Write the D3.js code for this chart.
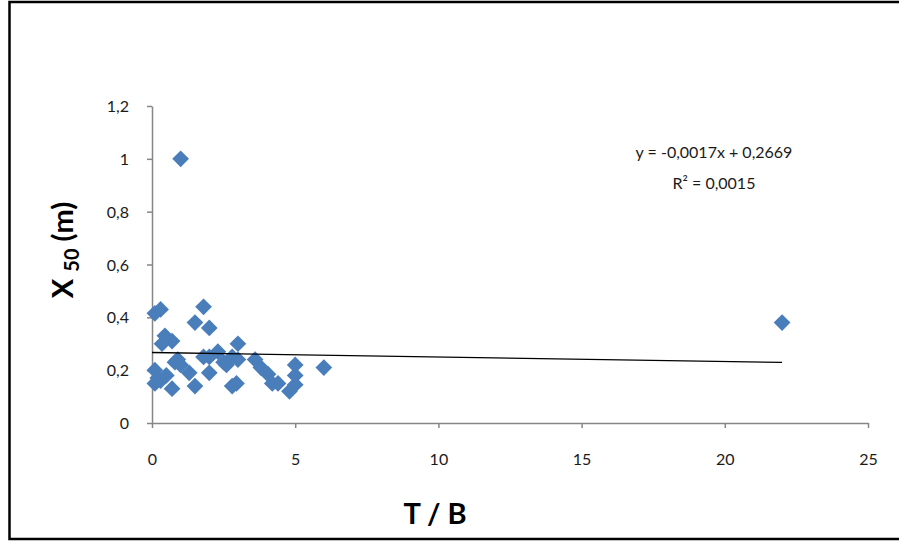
<!DOCTYPE html>
<html>
<head>
<meta charset="utf-8">
<script src="https://cdn.jsdelivr.net/npm/d3@7"></script>
<style>
  html, body { margin: 0; padding: 0; background: #fff; }
  svg { display: block; }
  text { font-family: Lato, "Open Sans", "Liberation Sans", sans-serif; }
</style>
</head>
<body>
<svg id="chart" width="899" height="542"></svg>
<script>
// Measurements: T/B ratio and X50 (m)
const tb = [1.0, 22, 0.1, 0.3, 1.8, 1.5, 2.0, 0.45, 0.7, 0.35, 3.0,
            0.1, 0.3, 0.5, 0.7, 0.1, 0.8, 1.0, 1.3, 1.5, 1.8, 2.0,
            2.0, 2.3, 2.5, 2.8, 3.0, 2.8, 2.95, 3.6, 3.8, 4.05, 4.2,
            4.4, 4.8, 5.0, 5.0, 5.0, 6.0, 0.2, 2.6, 0.9];
const x50 = [1.0, 0.38, 0.415, 0.43, 0.44, 0.38, 0.36, 0.33, 0.31, 0.30, 0.30,
             0.20, 0.16, 0.18, 0.13, 0.15, 0.23, 0.22, 0.19, 0.14, 0.25, 0.19,
             0.25, 0.27, 0.23, 0.25, 0.24, 0.14, 0.15, 0.24, 0.21, 0.185, 0.15,
             0.15, 0.12, 0.145, 0.18, 0.22, 0.21, 0.17, 0.22, 0.24];

// Linear trend line
const slope = -0.0017, intercept = 0.2669;
const trendRange = [0, 22];
const eqLines = ["y = -0,0017x + 0,2669", "R² = 0,0015"];

const xTicks = [0, 5, 10, 15, 20, 25];
const yTicks = [0, 0.2, 0.4, 0.6, 0.8, 1.0, 1.2];
const fmt = d => String(+d.toFixed(1)).replace(".", ",");

const svg = d3.select("#chart");

// Outer frame
svg.append("rect")
  .attr("x", 9.5).attr("y", 2).attr("width", 900).attr("height", 537)
  .attr("fill", "none").attr("stroke", "#000").attr("stroke-width", 2.5);

const x = d3.scaleLinear().domain([0, 25]).range([152, 868]);
const y = d3.scaleLinear().domain([0, 1.2]).range([423, 106]);

const axisColor = "#868686";

const gx = svg.append("g").attr("transform", "translate(0,423)")
  .call(d3.axisBottom(x).tickValues(xTicks).tickFormat(d => d).tickSize(5).tickSizeOuter(0));
const gy = svg.append("g").attr("transform", "translate(152,0)")
  .call(d3.axisLeft(y).tickValues(yTicks).tickFormat(fmt).tickSize(5).tickSizeOuter(0));

[gx, gy].forEach(g => {
  g.select(".domain").attr("stroke", axisColor).attr("stroke-width", 1.5);
  g.selectAll(".tick line").attr("stroke", axisColor).attr("stroke-width", 1.5);
  g.selectAll(".tick text").attr("fill", "#1a1a1a").style("font-size", "16px");
});
gx.selectAll(".tick text").attr("y", 36).attr("dy", "0.35em");
gy.selectAll(".tick text").attr("x", -23).attr("dy", "0.35em");

// Points (diamonds)
svg.append("g").selectAll("path")
  .data(tb.map((v, i) => [v, x50[i]]))
  .join("path")
  .attr("transform", d => `translate(${x(d[0])},${y(d[1])}) rotate(45)`)
  .attr("d", d3.symbol().type(d3.symbolSquare).size(140))
  .attr("fill", "#4a7ebb");

// Trend line
svg.append("line")
  .attr("x1", x(trendRange[0])).attr("y1", y(intercept + slope * trendRange[0]))
  .attr("x2", x(trendRange[1])).attr("y2", y(intercept + slope * trendRange[1]))
  .attr("stroke", "#000").attr("stroke-width", 1.3);

// Equation
svg.append("g").selectAll("text")
  .data(eqLines)
  .join("text")
  .attr("x", 714).attr("y", (d, i) => 158 + i * 31)
  .attr("text-anchor", "middle")
  .attr("fill", "#1a1a1a")
  .style("font-size", "16px")
  .text(d => d);

// Axis titles
svg.append("text")
  .attr("x", 435).attr("y", 524)
  .attr("text-anchor", "middle")
  .style("font-size", "29px").style("font-weight", "bold")
  .text("T / B");

const yt = svg.append("text")
  .attr("transform", "translate(73,250) rotate(-90)")
  .attr("text-anchor", "middle")
  .style("font-size", "29px").style("font-weight", "bold");
yt.append("tspan").text("X ");
yt.append("tspan").attr("dy", 6).style("font-size", "20px").text("50");
yt.append("tspan").attr("dy", -6).text(" (m)");
</script>
</body>
</html>
